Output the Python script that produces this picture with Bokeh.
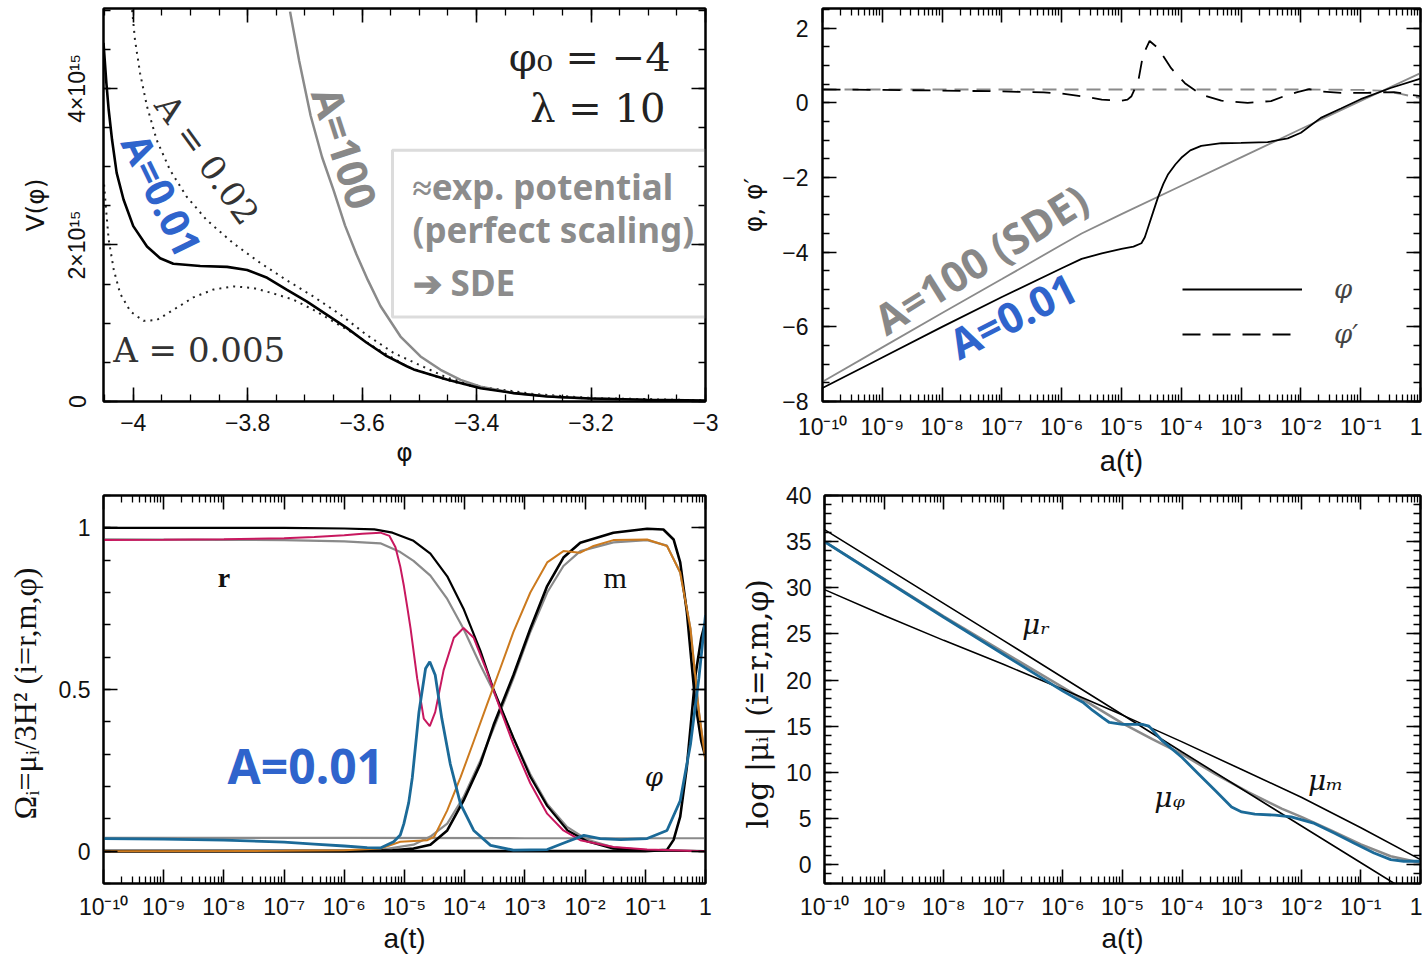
import numpy as np
from bokeh.plotting import figure
from bokeh.layouts import column, row
from bokeh.models import (Range1d, LinearAxis, LogAxis, SingleIntervalTicker, FixedTicker,
                          CustomJSTickFormatter, Label, BoxAnnotation, Legend, LegendItem)
from bokeh.embed import file_html
from bokeh.resources import INLINE

# ---------------- DATA ----------------
# Panel 1 : V(phi)  (V in units of 1e15)
v_phi_a001 = [-4.052, -4.047, -4.043, -4.037, -4.029, -4.017, -4.000, -3.976, -3.953, -3.930, -3.883,
              -3.836, -3.801, -3.766, -3.732, -3.697, -3.662, -3.627, -3.592, -3.557, -3.522, -3.510,
              -3.452, -3.393, -3.335, -3.277, -3.201, -3.103, -3.000]
v_val_a001 = [4.58, 4.07, 3.73, 3.34, 2.92, 2.58, 2.24, 1.98, 1.83, 1.76, 1.73,
              1.72, 1.68, 1.58, 1.43, 1.28, 1.11, 0.94, 0.75, 0.58, 0.45, 0.41,
              0.28, 0.17, 0.107, 0.064, 0.038, 0.022, 0.013]
v_phi_a002 = [-4.002, -3.997, -3.988, -3.976, -3.959, -3.936, -3.907, -3.872, -3.825, -3.778, -3.732,
              -3.685, -3.638, -3.592, -3.545, -3.498, -3.450, -3.390, -3.300, -3.200, -3.000]
v_val_a002 = [5.00, 4.62, 4.19, 3.77, 3.34, 2.96, 2.62, 2.32, 2.02, 1.77, 1.55,
              1.34, 1.11, 0.85, 0.62, 0.46, 0.30, 0.185, 0.095, 0.045, 0.014]
v_phi_a0005 = [-4.051, -4.047, -4.043, -4.034, -4.023, -4.005, -3.982, -3.959, -3.930, -3.895, -3.860,
               -3.825, -3.790, -3.755, -3.720, -3.685, -3.650, -3.615, -3.580, -3.520, -3.450, -3.390,
               -3.300, -3.200, -3.000]
v_val_a0005 = [2.77, 2.41, 2.07, 1.68, 1.38, 1.15, 1.03, 1.04, 1.17, 1.33, 1.43,
               1.47, 1.45, 1.38, 1.30, 1.17, 1.02, 0.87, 0.70, 0.44, 0.27, 0.165,
               0.085, 0.035, 0.010]
v_phi_a100 = [-3.726, -3.710, -3.690, -3.670, -3.650, -3.630, -3.610, -3.590, -3.568, -3.533, -3.498,
              -3.463, -3.428, -3.393, -3.335, -3.250, -3.100, -3.000]
v_val_a100 = [4.98, 4.35, 3.65, 3.12, 2.70, 2.25, 1.88, 1.55, 1.22, 0.83, 0.575,
              0.405, 0.277, 0.19, 0.107, 0.05, 0.015, 0.005]

# Panel 2 : phi, phi' vs log10 a
tr_loga_phi100 = [-10, -9, -8, -7, -6, -5.667, -5, -4, -3, -2, -1, 0]
tr_phi100 = [-7.47, -6.55, -5.63, -4.72, -3.80, -3.50, -2.98, -2.22, -1.46, -0.70, 0.05, 0.80]
tr_loga_phi001 = [-10, -9, -8, -7, -6, -5.667, -5.33, -5.0, -4.8, -4.667, -4.61, -4.556, -4.47, -4.39, -4.30,
                  -4.22, -4.10, -4.0, -3.85, -3.667, -3.33, -3.0, -2.556, -2.22, -2.0, -1.667, -1.33,
                  -1.0, -0.5, 0]
tr_phi001 = [-7.64, -6.82, -6.00, -5.20, -4.43, -4.18, -4.03, -3.91, -3.85, -3.76, -3.60, -3.34, -2.92, -2.53,
             -2.17, -1.91, -1.65, -1.47, -1.27, -1.15, -1.08, -1.07, -1.05, -0.95, -0.80, -0.40, -0.15,
             0.10, 0.40, 0.65]
tr_loga_dphi100 = [-10, -8, -6, -4, -2, -1, -0.667, -0.333, 0]
tr_dphi100 = [0.36, 0.36, 0.36, 0.36, 0.36, 0.35, 0.33, 0.24, 0.13]
tr_loga_dphi001 = [-10, -9, -8, -7, -6.3, -6, -5.667, -5.33, -5.0, -4.9, -4.833, -4.72, -4.64, -4.53, -4.39,
                   -4.17, -3.94, -3.667, -3.33, -2.89, -2.5, -2.28, -2.06, -1.86, -1.667, -1.33, -0.889,
                   -0.444, 0]
tr_dphi001 = [0.36, 0.35, 0.33, 0.31, 0.28, 0.25, 0.18, 0.09, 0.06, 0.09, 0.18, 0.58, 1.29, 1.66, 1.47,
              0.93, 0.53, 0.22, 0.06, 0.0, 0.05, 0.18, 0.29, 0.37, 0.31, 0.27, 0.27, 0.29, 0.18]

# Panel 3 : density parameters vs log10 a
bl_loga_blk_r = [-10, -8, -7, -6, -5.5, -5.2, -4.85, -4.57, -4.29, -4.02, -3.74, -3.52, -3.19, -2.91,
                 -2.63, -2.29, -1.96, -1.53, -1.0, 0]
bl_blk_r = [1.0, 1.0, 1.0, 0.998, 0.995, 0.985, 0.96, 0.92, 0.85, 0.75, 0.62, 0.50, 0.35, 0.23,
            0.14, 0.064, 0.03, 0.008, 0.002, 0.0]
bl_loga_blk_m = [-10, -6, -5.2, -4.85, -4.57, -4.29, -4.02, -3.74, -3.52, -3.19, -2.91, -2.63, -2.36,
                 -2.08, -1.53, -0.97, -0.70, -0.53, -0.42, -0.31, -0.17, -0.07, 0]
bl_blk_m = [0.0, 0.0, 0.003, 0.008, 0.02, 0.064, 0.156, 0.27, 0.39, 0.545, 0.688, 0.82, 0.908,
            0.954, 0.985, 0.997, 0.995, 0.964, 0.893, 0.74, 0.46, 0.34, 0.29]
bl_loga_blk_phi = [-10, -1.0, -0.64, -0.53, -0.42, -0.31, -0.17, -0.07, 0]
bl_blk_phi = [0.0, 0.0, 0.004, 0.035, 0.107, 0.26, 0.54, 0.66, 0.71]
bl_loga_gry_r = [-10, -8, -7, -6, -5.4, -5.07, -4.85, -4.57, -4.29, -4.02, -3.74, -3.52, -3.19, -2.91,
                 -2.63, -2.30, -1.96, -1.53, -1.0, 0]
bl_gry_r = [0.964, 0.963, 0.962, 0.958, 0.952, 0.925, 0.898, 0.852, 0.78, 0.688, 0.576, 0.494, 0.35, 0.238,
            0.146, 0.075, 0.035, 0.012, 0.003, 0.0]
bl_loga_gry_m = [-10, -6, -5.4, -4.85, -4.57, -4.29, -4.02, -3.74, -3.52, -3.19, -2.91, -2.63, -2.36,
                 -2.08, -1.53, -0.97, -0.64, -0.42, -0.25, -0.11, 0]
bl_gry_m = [0.0, 0.001, 0.004, 0.02, 0.045, 0.085, 0.167, 0.28, 0.38, 0.535, 0.678, 0.80, 0.882,
            0.928, 0.955, 0.962, 0.945, 0.862, 0.688, 0.432, 0.28]
bl_loga_gry_phi = [-10, -6, -3, -1, 0]
bl_gry_phi = [0.041, 0.041, 0.040, 0.040, 0.040]
bl_loga_mag = [-10, -9, -8, -7, -6.5, -6, -5.7, -5.4, -5.25, -5.15, -5.07, -5.01, -4.95, -4.90, -4.79,
               -4.68, -4.58, -4.49, -4.35, -4.18, -4.02, -3.85, -3.63, -3.41, -3.19, -2.91, -2.63,
               -2.36, -2.08, -1.53, -0.97, 0]
bl_mag = [0.962, 0.963, 0.965, 0.968, 0.972, 0.977, 0.982, 0.985, 0.975, 0.94, 0.88, 0.82, 0.75, 0.69, 0.535,
          0.41, 0.387, 0.43, 0.56, 0.66, 0.69, 0.66, 0.555, 0.44, 0.33, 0.21, 0.116,
          0.064, 0.034, 0.013, 0.005, 0.0]
bl_loga_org = [-10, -7, -6, -5.4, -5.07, -4.62, -4.51, -4.29, -4.07, -3.85, -3.63, -3.41, -3.19, -2.91,
               -2.63, -2.36, -2.08, -1.86, -1.53, -0.97, -0.64, -0.42, -0.25, -0.11, 0]
bl_org = [0.0, 0.001, 0.003, 0.008, 0.029, 0.034, 0.044, 0.126, 0.228, 0.34, 0.453, 0.565, 0.678, 0.80,
          0.893, 0.928, 0.923, 0.944, 0.962, 0.964, 0.944, 0.862, 0.688, 0.432, 0.28]
bl_loga_blu = [-10, -9, -8, -7, -6.5, -6, -5.62, -5.4, -5.18, -5.07, -5.01, -4.93, -4.87, -4.76, -4.65,
               -4.58, -4.49, -4.38, -4.24, -4.07, -3.85, -3.57, -3.19, -2.63, -2.30, -2.02, -1.75,
               -1.41, -0.97, -0.64, -0.42, -0.25, -0.11, 0]
bl_blu = [0.039, 0.037, 0.034, 0.028, 0.022, 0.016, 0.011, 0.010, 0.029, 0.05, 0.085, 0.15, 0.228, 0.43, 0.565,
          0.586, 0.545, 0.41, 0.27, 0.146, 0.064, 0.018, 0.003, 0.005, 0.029, 0.049, 0.039,
          0.036, 0.039, 0.064, 0.156, 0.33, 0.535, 0.73]

# Panel 4 : log |mu_i| vs log10 a
br_loga_mur = [-10, -7, -4, -1, 0]
br_mur = [36.3, 24.3, 12.2, 0.2, -3.8]
br_loga_mum = [-10, -9, -8, -7, -6, -5, -4, -3, -2, -1, 0]
br_mum = [29.8, 27.0, 24.3, 21.7, 19.0, 16.2, 13.3, 10.3, 7.3, 4.0, 0.54]
br_loga_gry = [-10, -8, -6, -5.667, -5.0, -4.5, -4.0, -3.44, -2.89, -2.33, -2.0, -1.5, -1.0, -0.5, 0]
br_gry = [35.0, 26.9, 19.2, 17.9, 15.3, 13.6, 11.96, 9.8, 7.86, 6.07, 5.18, 3.7, 2.2, 0.9, 0.2]
br_loga_blu = [-10, -9, -8, -7, -6, -5.667, -5.5, -5.33, -5.22, -5.0, -4.67, -4.556, -4.33, -4.0, -3.72,
               -3.44, -3.17, -3.0, -2.78, -2.44, -2.17, -1.78, -1.44, -1.11, -0.78, -0.5, -0.28, 0]
br_blu = [35.0, 30.9, 26.8, 22.8, 18.8, 17.6, 16.7, 15.9, 15.4, 15.2, 15.2, 15.0, 13.4, 11.6, 9.8,
          8.0, 6.25, 5.7, 5.46, 5.36, 5.18, 4.46, 3.4, 2.32, 1.25, 0.54, 0.36, 0.36]

# tick decades
decades = list(range(-10, 1))

# ---------------- STYLE HELPERS ----------------
TICKF = "Liberation Sans"
TICKSIZE = "23px"
BLUE = "#2F64CC"
GRAY = "#8a8a8a"
MAG = "#C8185F"
ORG = "#CC7A1E"
TEAL = "#1B6A98"

LOG_FMT = """
const e = Math.round(Math.log10(tick));
if (e === 0) { return "1"; }
const sup = {"-": "\u207b", "0": "\u2070", "1": "\u00b9", "2": "\u00b2", "3": "\u00b3", "4": "\u2074",
             "5": "\u2075", "6": "\u2076", "7": "\u2077", "8": "\u2078", "9": "\u2079"};
let s = "";
for (const c of String(e)) { s += sup[c]; }
return "10" + s;
"""
NUM_FMT = """
const a = Math.abs(tick);
const s = (Math.abs(a - Math.round(a)) < 1e-9) ? String(Math.round(a)) : a.toFixed(1);
return (tick < -1e-9 ? "\u2212" : "") + s;
"""
V_FMT = """
if (Math.abs(tick) < 1e-9) { return "0"; }
return Math.round(tick) + "\u00d710\u00b9\u2075";
"""


def log_ticker():
    return FixedTicker(ticks=[10.0 ** k for k in decades],
                       minor_ticks=[m * 10.0 ** k for k in decades[:-1] for m in range(2, 10)])


def style_axis(ax, labels=True, standoff=12, size=TICKSIZE):
    ax.major_tick_in = 14
    ax.major_tick_out = 0
    ax.minor_tick_in = 7
    ax.minor_tick_out = 0
    ax.major_tick_line_width = 1.6
    ax.minor_tick_line_width = 1.3
    ax.major_tick_line_color = "black"
    ax.minor_tick_line_color = "black"
    ax.axis_line_color = "black"
    ax.axis_line_width = 2
    if labels:
        ax.major_label_text_font = TICKF
        ax.major_label_text_font_size = size
        ax.major_label_standoff = standoff
        ax.major_label_text_color = "#111111"
    else:
        ax.major_label_text_font_size = "1px"
        ax.major_label_text_alpha = 0
        ax.major_label_standoff = 0


def make_fig(w, h, xr, yr, xlog, lb, rb, tb, bb, xticker, yticker, xfmt, yfmt):
    xa = LogAxis(ticker=xticker, formatter=xfmt) if xlog else LinearAxis(ticker=xticker, formatter=xfmt)
    ya = LinearAxis(ticker=yticker, formatter=yfmt)
    p = figure(width=w, height=h, x_range=xr, y_range=yr,
               x_axis_type="log" if xlog else "linear",
               x_axis_location=None, y_axis_location=None,
               output_backend="svg", toolbar_location=None,
               min_border_left=lb, min_border_right=rb, min_border_top=tb, min_border_bottom=bb)
    p.grid.visible = False
    p.outline_line_color = "black"
    p.outline_line_width = 2
    p.background_fill_color = "white"
    p.border_fill_color = "white"
    style_axis(xa, True, 12)
    style_axis(ya, True, 13)
    p.add_layout(xa, "below")
    p.add_layout(ya, "left")
    top = LogAxis(ticker=xticker) if xlog else LinearAxis(ticker=xticker)
    style_axis(top, False)
    p.add_layout(top, "above")
    right = LinearAxis(ticker=yticker)
    style_axis(right, False)
    p.add_layout(right, "right")
    return p, xa, ya


def axis_label(ax, text, font, size, standoff):
    ax.axis_label = text
    ax.axis_label_text_font = font
    ax.axis_label_text_font_size = size
    ax.axis_label_text_font_style = "normal"
    ax.axis_label_standoff = standoff
    ax.axis_label_text_color = "#111111"


def lg(v):
    return [10.0 ** x for x in v]


def txt(p, x, y, text, font, size, color, align="center", bold=False, italic=False, angle=0.0):
    style = "bold" if bold else ("italic" if italic else "normal")
    p.add_layout(Label(x=x, y=y, text=text, text_font=font, text_font_size=size, text_color=color,
                       text_font_style=style, text_align=align, text_baseline="middle",
                       angle=np.deg2rad(angle)))


# ---------------- PANEL 1 (top-left) ----------------
p1, x1, y1 = make_fig(736, 480, Range1d(-4.052, -3.0), Range1d(0, 5.02), False, 103, 31, 8, 79,
                      SingleIntervalTicker(interval=0.2, num_minor_ticks=4),
                      SingleIntervalTicker(interval=2, num_minor_ticks=4),
                      CustomJSTickFormatter(code=NUM_FMT), CustomJSTickFormatter(code=V_FMT))
y1.major_label_orientation = "parallel"
axis_label(x1, "\u03c6", "DejaVu Sans", "25px", 4)
axis_label(y1, "V(\u03c6)", "DejaVu Sans", "25px", 12)

p1.line(v_phi_a0005, v_val_a0005, line_color="#222222", line_width=2, line_dash="2 5")
p1.line(v_phi_a002, v_val_a002, line_color="#222222", line_width=2, line_dash="2 5")
p1.line(v_phi_a100, v_val_a100, line_color=GRAY, line_width=2.5)
p1.line(v_phi_a001, v_val_a001, line_color="black", line_width=2.6)

p1.add_layout(BoxAnnotation(left=-3.547, right=-3.0, bottom=1.08, top=3.21, fill_alpha=0,
                            line_color="#8c8c8c", line_width=3))
for t, y in [("\u2248exp. potential", 2.75), ("(perfect scaling)", 2.20), ("\u2794 SDE", 1.52)]:
    txt(p1, -3.512, y, t, "Noto Sans", "35px", "#8c8c8c", align="left", bold=True)
txt(p1, -3.061, 4.40, "\u03c6\u2080 = \u22124", "DejaVu Serif", "40px", "#222222", align="right")
txt(p1, -3.07, 3.75, "\u03bb = 10", "DejaVu Serif", "40px", "#222222", align="right")
txt(p1, -4.035, 0.66, "A = 0.005", "DejaVu Serif", "34px", "#333333", align="left")
txt(p1, -3.871, 3.09, "A = 0.02", "DejaVu Serif", "34px", "#333333", angle=-54)
txt(p1, -3.629, 3.24, "A=100", "Noto Sans", "42px", "#888888", bold=True, angle=-72)
txt(p1, -3.949, 2.64, "A=0.01", "Noto Sans", "40px", BLUE, bold=True, angle=-64)

# ---------------- PANEL 2 (top-right) ----------------
p2, x2, y2 = make_fig(686, 480, Range1d(1e-10, 1.0), Range1d(-8, 2.53), True, 84, 2, 8, 79,
                      log_ticker(), SingleIntervalTicker(interval=2, num_minor_ticks=4),
                      CustomJSTickFormatter(code=LOG_FMT), CustomJSTickFormatter(code=NUM_FMT))
y2.major_label_standoff = 14
axis_label(x2, "a(t)", "Liberation Sans", "29px", 2)
axis_label(y2, "\u03c6, \u03c6\u2032", "DejaVu Sans", "25px", 11)

p2.line(lg(tr_loga_dphi100), tr_dphi100, line_color=GRAY, line_width=1.8, line_dash="14 8")
p2.line(lg(tr_loga_phi100), tr_phi100, line_color=GRAY, line_width=1.8)
r_dphi = p2.line(lg(tr_loga_dphi001), tr_dphi001, line_color="black", line_width=1.8, line_dash="18 12")
r_phi = p2.line(lg(tr_loga_phi001), tr_phi001, line_color="black", line_width=1.8)

leg = Legend(items=[LegendItem(label="\u03c6", renderers=[r_phi]),
                    LegendItem(label="\u03c6\u2032", renderers=[r_dphi])],
             location=(360, 52), glyph_width=120, glyph_height=30, label_height=30, spacing=15,
             padding=0, margin=0, label_standoff=32, border_line_color=None,
             background_fill_alpha=0, label_text_font="DejaVu Serif",
             label_text_font_style="italic", label_text_font_size="26px")
p2.add_layout(leg)
# rotated labels: centre of the text
txt(p2, 10 ** -7.36, -4.17, "A=100 (SDE)", "Noto Sans", "42px", "#888888", bold=True, angle=32)
txt(p2, 10 ** -6.82, -5.68, "A=0.01", "Noto Sans", "42px", BLUE, bold=True, angle=27)

# ---------------- PANEL 3 (bottom-left) ----------------
p3, x3, y3 = make_fig(736, 476, Range1d(1e-10, 1.0), Range1d(-0.1, 1.1), True, 103, 31, 15, 69,
                      log_ticker(), SingleIntervalTicker(interval=0.5, num_minor_ticks=5),
                      CustomJSTickFormatter(code=LOG_FMT), CustomJSTickFormatter(code=NUM_FMT))
x3.major_label_standoff = 10
axis_label(x3, "a(t)", "Liberation Sans", "28px", 0)
axis_label(y3, "\u03a9\u1d62=\u03bc\u1d62/3H\u00b2  (i=r,m,\u03c6)", "Liberation Serif", "32px", 13)

p3.line(lg(bl_loga_gry_phi), bl_gry_phi, line_color=GRAY, line_width=2.2)
p3.line(lg(bl_loga_gry_r), bl_gry_r, line_color=GRAY, line_width=2.2)
p3.line(lg(bl_loga_gry_m), bl_gry_m, line_color=GRAY, line_width=2.2)
p3.line(lg(bl_loga_blk_r), bl_blk_r, line_color="black", line_width=2.2)
p3.line(lg(bl_loga_blk_m), bl_blk_m, line_color="black", line_width=2.6)
p3.line(lg(bl_loga_blk_phi), bl_blk_phi, line_color="black", line_width=2.6)
p3.line(lg(bl_loga_mag), bl_mag, line_color=MAG, line_width=2)
p3.line(lg(bl_loga_org), bl_org, line_color=ORG, line_width=2)
p3.line(lg(bl_loga_blu), bl_blu, line_color=TEAL, line_width=2.8)

txt(p3, 10 ** -7.94, 0.265, "A=0.01", "Noto Sans", "48px", BLUE, align="left", bold=True)
txt(p3, 10 ** -8.0, 0.845, "r", "Liberation Serif", "28px", "#111111", bold=True)
txt(p3, 10 ** -1.5, 0.845, "m", "Liberation Serif", "30px", "#111111")
txt(p3, 10 ** -0.86, 0.229, "\u03c6", "DejaVu Serif", "26px", "#111111", italic=True)

# ---------------- PANEL 4 (bottom-right) ----------------
p4, x4, y4 = make_fig(686, 476, Range1d(1e-10, 1.0), Range1d(-2.05, 40), True, 84, 2, 15, 69,
                      log_ticker(), SingleIntervalTicker(interval=5, num_minor_ticks=5),
                      CustomJSTickFormatter(code=LOG_FMT), CustomJSTickFormatter(code=NUM_FMT))
x4.major_label_standoff = 10
y4.major_label_standoff = 13
axis_label(x4, "a(t)", "Liberation Sans", "28px", 0)
axis_label(y4, "log |\u03bc\u1d62|    (i=r,m,\u03c6)", "DejaVu Serif", "30px", 8)

p4.line(lg(br_loga_gry), br_gry, line_color=GRAY, line_width=2.5)
p4.line(lg(br_loga_mur), br_mur, line_color="black", line_width=1.6)
p4.line(lg(br_loga_mum), br_mum, line_color="black", line_width=1.6)
p4.line(lg(br_loga_blu), br_blu, line_color=TEAL, line_width=2.8)

for t, lx, y in [("\u03bc\u1d63", -6.45, 26.05), ("\u03bc\u1d69", -4.21, 7.27), ("\u03bc\u2098", -1.59, 9.1)]:
    txt(p4, 10 ** lx, y, t, "DejaVu Serif", "28px", "#111111", italic=True)

layout = column(row(p1, p2), row(p3, p4))
open("out.html", "w").write(file_html(layout, INLINE))
